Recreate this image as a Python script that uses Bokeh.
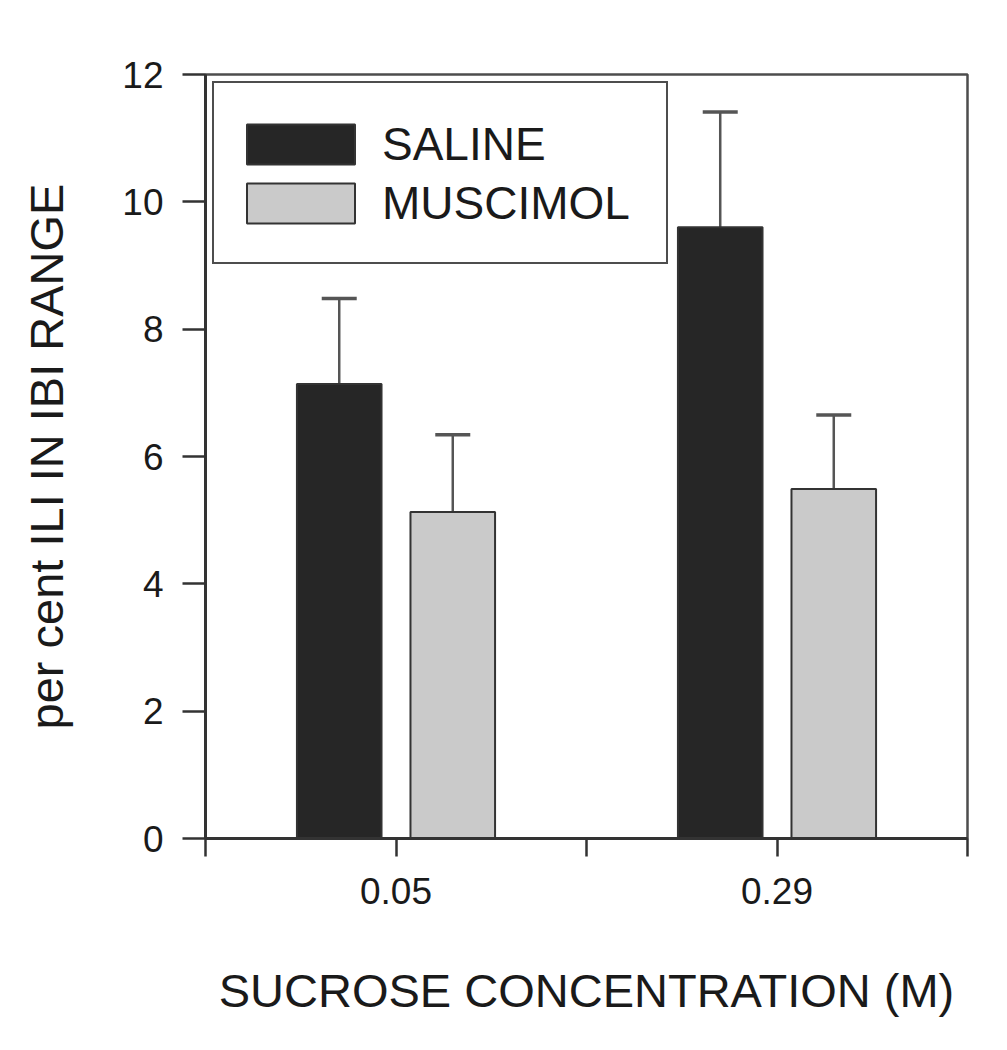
from bokeh.plotting import figure
from bokeh.models import (ColumnDataSource, FixedTicker, Whisker, TeeHead, Legend, LegendItem, Range1d)
from bokeh.embed import file_html
from bokeh.resources import INLINE

# ---- data ----
categories = ["0.05", "0.29"]
saline = [7.14, 9.60]
saline_err = [1.34, 1.81]
muscimol = [5.13, 5.49]
muscimol_err = [1.21, 1.16]
series_names = ["SALINE", "MUSCIMOL"]
y_ticks = [0, 2, 4, 6, 8, 10, 12]

FONT = "Liberation Sans"
DARK = "#262626"
LIGHT = "#cacaca"
EDGE = "#333333"

centers = [i + 0.5 for i in range(len(categories))]
off = 0.149
bw = 0.222

p = figure(width=999, height=1042, output_backend="svg", toolbar_location=None,
           x_range=Range1d(0, len(categories)), y_range=Range1d(0, 12),
           min_border_left=205, min_border_right=32, min_border_top=74, min_border_bottom=204,
           background_fill_color="white", border_fill_color="white")
p.grid.visible = False
p.outline_line_color = "#4d4d4d"
p.outline_line_width = 2.5

src_s = ColumnDataSource(dict(x=[c - off for c in centers], top=saline,
                              up=[v + e for v, e in zip(saline, saline_err)]))
src_m = ColumnDataSource(dict(x=[c + off for c in centers], top=muscimol,
                              up=[v + e for v, e in zip(muscimol, muscimol_err)]))

# error bars (upward only)
for src in (src_s, src_m):
    w = Whisker(source=src, base="x", lower="top", upper="up", dimension="height",
                line_color="#555555", line_width=2.5,
                upper_head=TeeHead(size=35, line_color="#555555", line_width=3.5),
                lower_head=None, level="underlay")
    p.add_layout(w)

r_s = p.vbar(x="x", top="top", width=bw, bottom=0, source=src_s,
             fill_color=DARK, line_color=EDGE, line_width=2)
r_m = p.vbar(x="x", top="top", width=bw, bottom=0, source=src_m,
             fill_color=LIGHT, line_color=EDGE, line_width=2)

legend = Legend(items=[LegendItem(label=series_names[0], renderers=[r_s]),
                       LegendItem(label=series_names[1], renderers=[r_m])],
                location="top_left", margin=7, spacing=0,
                glyph_width=135, glyph_height=50, label_standoff=14,
                label_width=264, label_height=59,
                label_text_font=FONT, label_text_font_size="46px", label_text_color="#1a1a1a",
                border_line_color="#4d4d4d", border_line_width=2.5, border_line_alpha=1.0,
                background_fill_color="white", background_fill_alpha=1.0)
try:
    legend.padding = dict(left=19, right=20, top=31, bottom=30)
except Exception:
    legend.padding = 25
    legend.label_width = 253
p.add_layout(legend)

# axes
xa = p.xaxis[0]
xa.ticker = FixedTicker(ticks=[i * 0.5 for i in range(2 * len(categories) + 1)])
overrides = {i * 0.5: "" for i in range(2 * len(categories) + 1)}
for c, lab in zip(centers, categories):
    overrides[c] = lab
xa.major_label_overrides = overrides
xa.axis_label = "SUCROSE CONCENTRATION (M)"

ya = p.yaxis[0]
ya.ticker = FixedTicker(ticks=y_ticks)
ya.axis_label = "per cent ILI IN IBI RANGE"

for ax in (xa, ya):
    ax.axis_line_color = EDGE
    ax.axis_line_width = 3
    ax.major_tick_line_color = EDGE
    ax.major_tick_line_width = 2.5
    ax.major_tick_in = 0
    ax.minor_tick_line_color = None
    ax.major_label_text_font = FONT
    ax.major_label_text_font_size = "37px"
    ax.major_label_text_color = "#1a1a1a"
    ax.axis_label_text_font = FONT
    ax.axis_label_text_font_size = "47px"
    ax.axis_label_text_font_style = "normal"
    ax.axis_label_text_color = "#1a1a1a"

xa.major_tick_out = 18
xa.major_label_standoff = 21
xa.axis_label_standoff = 57
ya.major_tick_out = 23
ya.major_label_standoff = 19
ya.axis_label_standoff = 46

open("out.html", "w").write(file_html(p, INLINE))
